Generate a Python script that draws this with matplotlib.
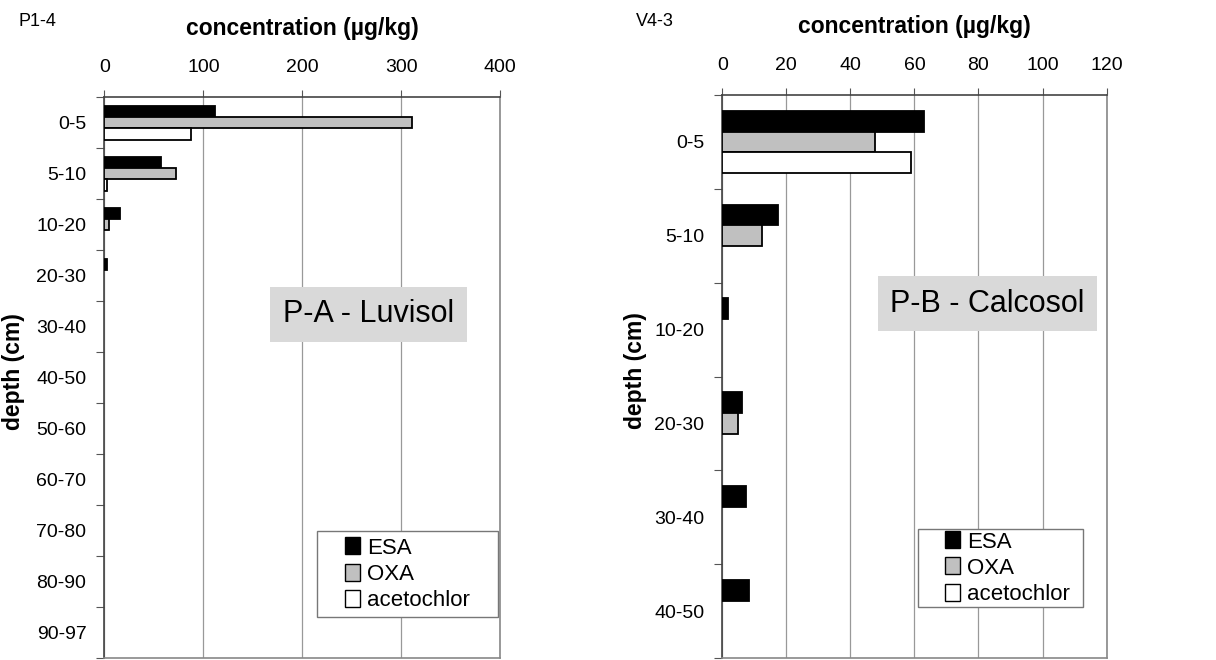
import numpy as np
import matplotlib.pyplot as plt
from matplotlib.patches import Patch, Rectangle

plt.rcParams['font.family'] = ['Liberation Sans', 'DejaVu Sans']

series = ["ESA", "OXA", "acetochlor"]
colors = ["black", "#c0c0c0", "white"]

depth_a = ["0-5", "5-10", "10-20", "20-30", "30-40", "40-50",
           "50-60", "60-70", "70-80", "80-90", "90-97"]
esa_a = [112, 57, 16, 3, 0, 0, 0, 0, 0, 0, 0]
oxa_a = [311, 72, 4.5, 0, 0, 0, 0, 0, 0, 0, 0]
aceto_a = [88, 3, 0, 0, 0, 0, 0, 0, 0, 0, 0]

depth_b = ["0-5", "5-10", "10-20", "20-30", "30-40", "40-50"]
esa_b = [63, 17.5, 1.8, 6.2, 7.3, 8.2]
oxa_b = [47.6, 12.4, 0, 5.0, 0, 0]
aceto_b = [59, 0, 0, 0, 0, 0]

fig = plt.figure(figsize=(12.16, 6.6), dpi=100)


def panel(rect, cats, vals, xmax, xstep, code, soil, soil_xy, leg_box, ylab_x):
    ax = fig.add_axes(rect)
    n = len(cats)
    y = np.arange(n)
    h = 1 / 4.5
    for k, (v, c) in enumerate(zip(vals, colors)):
        v = np.asarray(v, dtype=float)
        m = v > 0  # empty cells are not drawn at all
        ax.barh(y[m] + (k - 1) * h, v[m], height=h, color=c, edgecolor="black",
                linewidth=1.3, zorder=3)
    ax.set_xlim(0, xmax)
    ax.set_ylim(n - 0.5, -0.5)
    ax.xaxis.tick_top()
    ax.set_xticks(np.arange(0, xmax + 1, xstep))
    ax.tick_params(axis="x", length=5, width=0.8, color="#555555", pad=10,
                   labelsize=14)
    ax.set_yticks(y)
    ax.set_yticklabels(cats)
    ax.set_yticks(np.arange(n + 1) - 0.5, minor=True)
    ax.tick_params(axis="y", which="major", length=0, pad=13, labelsize=14)
    ax.tick_params(axis="y", which="minor", length=6, width=0.8, color="#555555")
    ax.grid(axis="x", color="#999999", linewidth=0.9, zorder=0)
    for s in ["top", "left"]:
        ax.spines[s].set_color("#444444")
        ax.spines[s].set_linewidth(1.2)
    for s in ["right", "bottom"]:
        ax.spines[s].set_color("#888888")
        ax.spines[s].set_linewidth(1.2)
    ax.set_title("concentration (µg/kg)", fontsize=16.5, fontweight="bold", pad=45)
    ax.set_ylabel("depth (cm)", fontsize=16.5, fontweight="bold")
    ax.yaxis.set_label_coords(ylab_x, 0.51)
    ax.text(soil_xy[0], soil_xy[1], soil, transform=ax.transAxes, fontsize=22,
            ha="center", va="center", zorder=5,
            bbox=dict(facecolor="#d9d9d9", edgecolor="none", pad=9))
    x0, y0, x1, y1 = leg_box
    ax.add_patch(Rectangle((x0, y0), x1 - x0, y1 - y0, transform=ax.transAxes,
                           facecolor="white", edgecolor="#777777", linewidth=1,
                           zorder=6))
    handles = [Patch(facecolor=c, edgecolor="black", linewidth=1) for c in colors]
    ax.legend(handles, series, loc="center left", frameon=False,
              bbox_to_anchor=(x0 + 0.07, (y0 + y1) / 2), fontsize=16,
              handlelength=0.7, handleheight=0.8, handletextpad=0.3,
              labelspacing=0.22, borderpad=0, borderaxespad=0).set_zorder(7)
    fig.text(rect[0] - 0.071, 0.968, code, fontsize=13, ha="left", va="center")
    return ax


panel([0.0859, 0.003, 0.3253, 0.850], depth_a, [esa_a, oxa_a, aceto_a],
      400, 100, "P1-4", "P-A - Luvisol", (0.6675, 0.613),
      (0.537, 0.073, 0.995, 0.226), -0.201)
panel([0.594, 0.003, 0.316, 0.853], depth_b, [esa_b, oxa_b, aceto_b],
      120, 20, "V4-3", "P-B - Calcosol", (0.690, 0.629),
      (0.509, 0.0906, 0.939, 0.229), -0.195)

fig.savefig("out.png", dpi=100)
